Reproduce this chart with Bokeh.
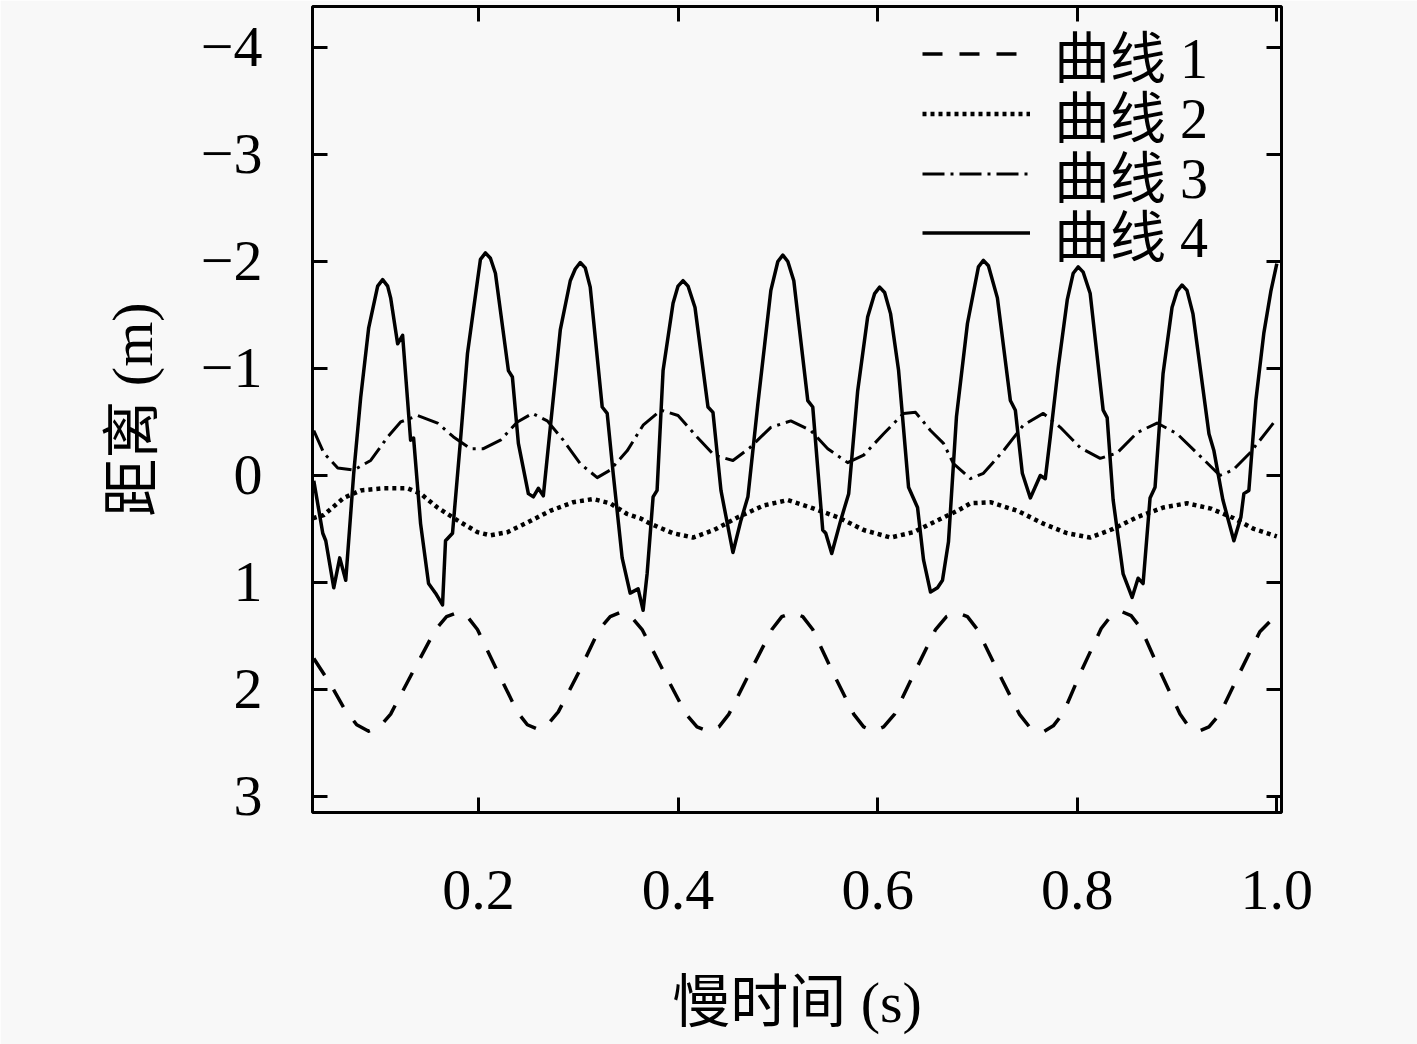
from bokeh.plotting import figure
from bokeh.models import Range1d, FixedTicker, LinearAxis, Legend, LegendItem, PrintfTickFormatter
from bokeh.embed import file_html
from bokeh.resources import INLINE

FONT = "'Liberation Serif', 'Noto Sans CJK SC', serif"
BG = "#f8f8f8"

x_ticks = [0.2, 0.4, 0.6, 0.8, 1.0]
y_ticks = [-4, -3, -2, -1, 0, 1, 2, 3]
y_tick_labels = ["\u22124", "\u22123", "\u22122", "\u22121", "0", "1", "2", "3"]
series_names = ["曲线 1", "曲线 2", "曲线 3", "曲线 4"]
x_label = "慢时间 (s)"
y_label = "距离 (m)"

# curve 1 (dashed)
c1_x = [0.035, 0.051, 0.065, 0.078, 0.090,
        0.101, 0.112, 0.134, 0.157, 0.168, 0.179,
        0.189, 0.199, 0.219, 0.239, 0.249, 0.259,
        0.269, 0.280, 0.301, 0.321, 0.332, 0.342,
        0.353, 0.364, 0.386, 0.408, 0.419, 0.430,
        0.441, 0.451, 0.472, 0.494, 0.504, 0.515,
        0.525, 0.535, 0.555, 0.576, 0.586, 0.596,
        0.606, 0.617, 0.637, 0.658, 0.669, 0.679,
        0.690, 0.700, 0.721, 0.742, 0.753, 0.760, 0.767,
        0.776, 0.786, 0.804, 0.824, 0.834, 0.844,
        0.854, 0.864, 0.883, 0.903, 0.912, 0.922,
        0.932, 0.943, 0.963, 0.983, 1.000]
c1_y = [1.71, 1.94, 2.17, 2.33, 2.39,
        2.35, 2.23, 1.84, 1.44, 1.32, 1.28,
        1.32, 1.44, 1.83, 2.21, 2.33, 2.37,
        2.33, 2.21, 1.83, 1.44, 1.32, 1.28,
        1.32, 1.44, 1.84, 2.23, 2.35, 2.39,
        2.35, 2.23, 1.84, 1.44, 1.32, 1.28,
        1.32, 1.44, 1.84, 2.23, 2.35, 2.39,
        2.35, 2.23, 1.84, 1.44, 1.32, 1.28,
        1.32, 1.44, 1.84, 2.23, 2.36, 2.39, 2.39,
        2.34, 2.22, 1.83, 1.43, 1.31, 1.27,
        1.31, 1.43, 1.83, 2.23, 2.35, 2.39,
        2.35, 2.23, 1.84, 1.46, 1.30]

# curve 2 (dotted)
c2_x = [0.034, 0.045, 0.065, 0.082, 0.105, 0.129, 0.142, 0.159, 0.179, 0.199,
        0.212, 0.229, 0.249, 0.272, 0.295, 0.315, 0.332, 0.349, 0.362, 0.372,
        0.395, 0.415, 0.436, 0.460, 0.486, 0.510, 0.533, 0.560, 0.586, 0.613,
        0.636, 0.660, 0.680, 0.693, 0.713, 0.740, 0.766, 0.790, 0.813, 0.836,
        0.860, 0.886, 0.910, 0.934, 0.957, 0.977, 1.000]
c2_y = [0.40, 0.37, 0.21, 0.14, 0.12, 0.12, 0.17, 0.30, 0.42, 0.53,
        0.56, 0.53, 0.44, 0.33, 0.25, 0.22, 0.26, 0.36, 0.40, 0.45,
        0.54, 0.58, 0.51, 0.39, 0.28, 0.23, 0.30, 0.39, 0.51, 0.58,
        0.53, 0.42, 0.33, 0.26, 0.25, 0.33, 0.45, 0.54, 0.58, 0.50,
        0.39, 0.30, 0.26, 0.31, 0.40, 0.50, 0.57]

# curve 3 (dash-dot)
c3_x = [0.035, 0.045, 0.059, 0.075, 0.092, 0.109, 0.122, 0.139, 0.159, 0.175,
        0.192, 0.205, 0.222, 0.239, 0.254, 0.269, 0.285, 0.302, 0.319, 0.332,
        0.349, 0.365, 0.383, 0.400, 0.419, 0.436, 0.455, 0.472, 0.493, 0.513,
        0.533, 0.550, 0.570, 0.586, 0.606, 0.626, 0.638, 0.653, 0.666, 0.676,
        0.693, 0.706, 0.726, 0.746, 0.766, 0.783, 0.803, 0.823, 0.840, 0.860,
        0.880, 0.900, 0.920, 0.943, 0.956, 0.973, 1.000]
c3_y = [-0.42, -0.21, -0.07, -0.05, -0.14, -0.36, -0.50, -0.56, -0.49, -0.36,
        -0.25, -0.25, -0.33, -0.50, -0.58, -0.51, -0.33, -0.11, 0.02, -0.05,
        -0.23, -0.47, -0.61, -0.56, -0.36, -0.19, -0.14, -0.26, -0.45, -0.51,
        -0.42, -0.25, -0.12, -0.19, -0.39, -0.58, -0.59, -0.42, -0.30, -0.11,
        0.03, -0.02, -0.23, -0.47, -0.58, -0.45, -0.26, -0.16, -0.21, -0.40,
        -0.49, -0.39, -0.21, 0.00, -0.05, -0.21, -0.53]

# curve 4 (solid)
c4_x = [0.035, 0.044, 0.047, 0.055, 0.061, 0.067, 0.075, 0.082, 0.090, 0.099,
        0.104, 0.109, 0.112, 0.119, 0.124, 0.129, 0.132, 0.135, 0.142, 0.150,
        0.157, 0.164, 0.167, 0.174, 0.182, 0.189, 0.199, 0.202, 0.207, 0.212,
        0.217, 0.230, 0.234, 0.240, 0.250, 0.255, 0.260, 0.265, 0.272, 0.282,
        0.292, 0.297, 0.302, 0.307, 0.312, 0.324, 0.329, 0.335, 0.344, 0.352,
        0.360, 0.365, 0.369, 0.375, 0.379, 0.385, 0.395, 0.400, 0.405, 0.410,
        0.417, 0.430, 0.435, 0.443, 0.455, 0.463, 0.470, 0.480, 0.493, 0.500,
        0.505, 0.510, 0.516, 0.530, 0.535, 0.545, 0.548, 0.554, 0.563, 0.571,
        0.580, 0.590, 0.597, 0.602, 0.607, 0.613, 0.621, 0.631, 0.640, 0.646,
        0.653, 0.660, 0.665, 0.671, 0.679, 0.690, 0.701, 0.706, 0.711, 0.720,
        0.733, 0.738, 0.745, 0.753, 0.763, 0.768, 0.773, 0.781, 0.790, 0.796,
        0.801, 0.806, 0.813, 0.826, 0.830, 0.836, 0.846, 0.855, 0.861, 0.866,
        0.873, 0.878, 0.886, 0.895, 0.900, 0.905, 0.910, 0.916, 0.932, 0.937,
        0.946, 0.957, 0.964, 0.967, 0.972, 0.979, 0.987, 0.994, 1.000]
c4_y = [0.05, 0.54, 0.61, 1.05, 0.77, 0.98, -0.02, -0.73, -1.38, -1.77,
        -1.83, -1.77, -1.66, -1.23, -1.31, -0.70, -0.33, -0.35, 0.45, 1.01,
        1.10, 1.21, 0.61, 0.54, -0.33, -1.14, -1.82, -2.02, -2.08, -2.03,
        -1.89, -0.98, -0.92, -0.30, 0.17, 0.20, 0.12, 0.19, -0.45, -1.36,
        -1.82, -1.93, -1.99, -1.94, -1.76, -0.64, -0.58, -0.02, 0.77, 1.10,
        1.06, 1.26, 0.92, 0.20, 0.14, -0.98, -1.61, -1.77, -1.82, -1.77,
        -1.57, -0.64, -0.59, 0.14, 0.72, 0.42, 0.20, -0.67, -1.73, -2.00,
        -2.06, -2.00, -1.82, -0.70, -0.64, 0.51, 0.54, 0.73, 0.42, 0.17,
        -0.79, -1.48, -1.70, -1.76, -1.71, -1.51, -0.98, 0.11, 0.30, 0.79,
        1.09, 1.05, 0.98, 0.62, -0.55, -1.42, -1.95, -2.01, -1.96, -1.66,
        -0.70, -0.61, -0.02, 0.21, 0.00, 0.03, -0.36, -1.01, -1.64, -1.89,
        -1.95, -1.90, -1.70, -0.61, -0.54, 0.23, 0.92, 1.14, 0.96, 1.01,
        0.21, 0.11, -0.95, -1.57, -1.72, -1.78, -1.73, -1.51, -0.39, -0.23,
        0.23, 0.61, 0.39, 0.17, 0.14, -0.70, -1.33, -1.72, -1.98]

p = figure(frame_width=969, frame_height=806,
           x_range=Range1d(0.0337, 1.0047), y_range=Range1d(3.15, -4.383),
           output_backend="svg", toolbar_location=None,
           min_border_left=312, min_border_top=6, min_border_right=136, min_border_bottom=232,
           background_fill_color=BG, border_fill_color=BG)
p.grid.visible = False
p.outline_line_color = "black"
p.outline_line_width = 3

def style_axis(ax, ticks, labels_visible=True):
    ax.ticker = FixedTicker(ticks=ticks)
    ax.major_tick_in = 15
    ax.major_tick_out = 0
    ax.minor_tick_in = 0
    ax.minor_tick_out = 0
    ax.major_tick_line_width = 3
    ax.major_tick_line_color = "black"
    ax.axis_line_color = None
    ax.major_label_text_font = FONT
    ax.major_label_text_color = "black"
    ax.axis_label_text_font = FONT
    ax.axis_label_text_font_style = "normal"
    ax.axis_label_text_color = "black"
    if labels_visible:
        ax.major_label_text_font_size = "58px"
        ax.axis_label_text_font_size = "58px"
    else:
        ax.major_label_overrides = {t: "" for t in ticks}
        ax.major_label_text_font_size = "1px"
        ax.major_label_standoff = 0

xa = p.xaxis[0]
style_axis(xa, x_ticks)
xa.formatter = PrintfTickFormatter(format="%.1f")
xa.major_label_standoff = 58
xa.axis_label = x_label
xa.axis_label_standoff = 58

ya = p.yaxis[0]
style_axis(ya, y_ticks)
ya.major_label_overrides = dict(zip(y_ticks, y_tick_labels))
ya.major_label_standoff = 50
ya.axis_label = y_label
ya.axis_label_standoff = 33

ra = LinearAxis()
style_axis(ra, y_ticks, labels_visible=False)
p.add_layout(ra, "right")
ta = LinearAxis()
style_axis(ta, x_ticks, labels_visible=False)
p.add_layout(ta, "above")

r1 = p.line(c1_x, c1_y, line_color="black", line_width=3.5, line_dash="20 17", line_join="round")
r2 = p.line(c2_x, c2_y, line_color="black", line_width=4.5, line_dash="4 4", line_join="round")
r3 = p.line(c3_x, c3_y, line_color="black", line_width=3, line_dash="22 6 3 6", line_join="round")
r4 = p.line(c4_x, c4_y, line_color="black", line_width=3.5, line_join="round")

# one legend box per row so the rows sit as close together as in the reference
row_bottoms = [718, 658, 598, 539]
for name, r, yb in zip(series_names, [r1, r2, r3, r4], row_bottoms):
    lg = Legend(items=[LegendItem(label=name, renderers=[r])], location=(610, yb),
                padding=0, spacing=0, margin=0,
                glyph_width=108, glyph_height=81, label_height=81, label_standoff=24,
                label_text_font=FONT, label_text_font_size="56px", label_text_color="black",
                background_fill_alpha=0, border_line_alpha=0)
    p.add_layout(lg)

with open("out.html", "w", encoding="utf-8") as f:
    f.write(file_html(p, INLINE))
